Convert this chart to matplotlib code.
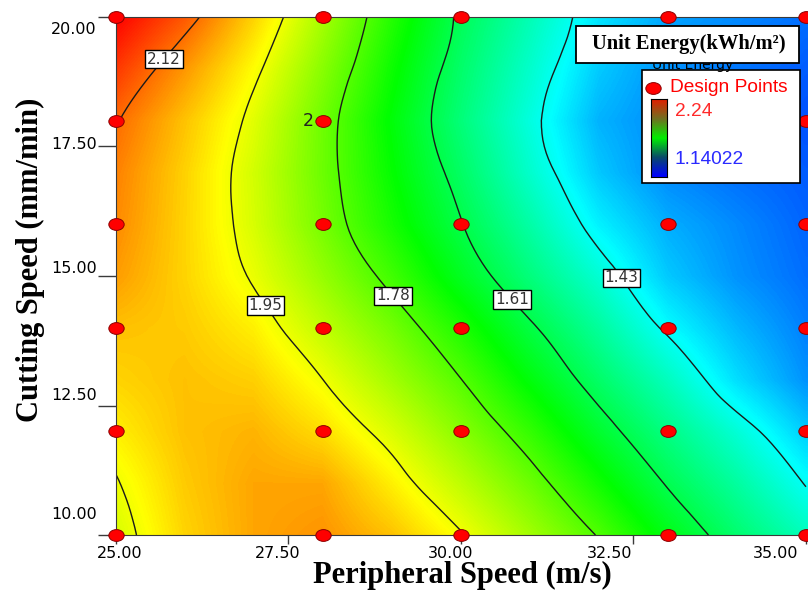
import numpy as np
import matplotlib
matplotlib.use('Agg')
import matplotlib.pyplot as plt
import matplotlib.tri as tri
from matplotlib.colors import LinearSegmentedColormap, Normalize
from matplotlib.markers import MarkerStyle
from matplotlib.transforms import Affine2D, ScaledTranslation
from matplotlib.patches import Rectangle

# 축 값 (격자)
speed = [25, 26, 27, 28, 29, 30, 31, 32, 33, 34, 35]
cut = [10, 11, 12, 13, 14, 15, 16, 17, 18, 19, 20]

# 그림에서 읽은 단위 에너지 (행: cut, 열: speed)
energy = [
    [1.92, 2.01, 2.06, 2.08, 2.03, 1.955, 1.866, 1.775, 1.668, 1.573, 1.49],
    [1.945, 2.02, 2.06, 2.06, 1.98, 1.895, 1.807, 1.707, 1.604, 1.52, 1.426],
    [1.98, 2.03, 2.045, 2.00, 1.924, 1.837, 1.745, 1.641, 1.549, 1.461, 1.363],
    [2.01, 2.03, 2.015, 1.95, 1.865, 1.781, 1.679, 1.58, 1.487, 1.382, 1.30],
    [2.03, 2.02, 1.98, 1.897, 1.815, 1.722, 1.62, 1.524, 1.418, 1.34, 1.28],
    [2.07, 2.01, 1.942, 1.851, 1.759, 1.656, 1.558, 1.464, 1.359, 1.30, 1.26],
    [2.09, 2.01, 1.921, 1.816, 1.714, 1.613, 1.513, 1.403, 1.33, 1.29, 1.25],
    [2.10, 2.013, 1.916, 1.805, 1.694, 1.584, 1.472, 1.358, 1.29, 1.26, 1.24],
    [2.125, 2.029, 1.932, 1.808, 1.682, 1.561, 1.451, 1.335, 1.29, 1.25, 1.23],
    [2.18, 2.076, 1.965, 1.836, 1.703, 1.578, 1.472, 1.36, 1.30, 1.27, 1.24],
    [2.24, 2.145, 2.012, 1.869, 1.729, 1.598, 1.497, 1.39, 1.32, 1.29, 1.26],
]

# 설계점
design_x = [25, 28, 30, 33, 35,
            25, 28, 33, 35,
            25, 28, 30, 33, 35,
            25, 28, 30, 33, 35,
            25, 28, 30, 33, 35,
            25, 28, 30, 33, 35]
design_y = [20] * 5 + [18] * 4 + [16] * 5 + [14] * 5 + [12] * 5 + [10] * 5

levels = [1.43, 1.61, 1.78, 1.95, 2.12]
label_pos = [(32.28, 14.92), (30.77, 14.58), (29.08, 14.69), (27.18, 14.44), (25.71, 19.17)]
e_min, e_max = 1.14022, 2.24

xticks = [25, 27.5, 30, 32.5, 35]
yticks = [10, 12.5, 15, 17.5, 20]
xtick_shift = [4, -11, -10, -24, -30]   # px
ytick_shift = [22, 12, 9, 3, -11]       # px

cmap = LinearSegmentedColormap.from_list('de', ['#0000ff', '#00ffff', '#00ff00', '#ffff00', '#ff0000'])
norm = Normalize(vmin=e_min, vmax=e_max)
Z = np.array(energy)

fig = plt.figure(figsize=(8.08, 5.92), dpi=100)
ax = fig.add_axes([116 / 808, 57 / 592, 692 / 808, 518 / 592])

ax.imshow(Z, origin='lower', extent=[24.5, 35.5, 9.5, 20.5], cmap=cmap, norm=norm,
          interpolation='bilinear', interpolation_stage='data', aspect='auto')

# 등고선은 삼각분할을 세분해서 부드럽게
Xg, Yg = np.meshgrid(speed, cut)
triang = tri.Triangulation(Xg.ravel(), Yg.ravel())
interp = tri.CubicTriInterpolator(triang, Z.ravel())
tri_ref, z_ref = tri.UniformTriRefiner(triang).refine_field(Z.ravel(), triinterpolator=interp, subdiv=3)
cs = ax.tricontour(tri_ref, z_ref, levels=levels, colors='#1a1a1a', linewidths=1.0)
labels = ax.clabel(cs, levels, inline=False, fmt='%.2f', fontsize=11, manual=label_pos)
for t in labels:
    t.set_rotation(0)
    t.set_color('#333333')
    t.set_bbox(dict(boxstyle='square,pad=0.12', fc='white', ec='black', lw=1))

ell = MarkerStyle('o', transform=Affine2D().scale(1.3, 1.0))
ax.plot(design_x, design_y, ls='none', marker=ell, ms=8.5, mfc='red', mec='#8b0000',
        mew=0.7, clip_on=False, zorder=5)
ax.annotate('2', (28, 18), xytext=(-7, 0), textcoords='offset points', ha='right',
            va='center', fontsize=12.5, color='#222222')

ax.set_xlim(25, 35.03)
ax.set_ylim(10, 20)
ax.set_xticks(xticks)
ax.set_xticklabels(['%.2f' % v for v in xticks])
ax.set_yticks(yticks)
ax.set_yticklabels(['%.2f' % v for v in yticks])
ax.tick_params(axis='y', length=13, width=1, color='#3a3a3a', pad=1, labelsize=11.5)
ax.tick_params(axis='x', length=6.5, width=1, color='#3a3a3a', pad=1.5, labelsize=11.5)
for lab, dx in zip(ax.get_xticklabels(), xtick_shift):
    lab.set_transform(lab.get_transform() + ScaledTranslation(dx / 100, 0, fig.dpi_scale_trans))
for lab, dy in zip(ax.get_yticklabels(), ytick_shift):
    lab.set_transform(lab.get_transform() + ScaledTranslation(0, dy / 100, fig.dpi_scale_trans))
for s in ['left', 'bottom', 'top']:
    ax.spines[s].set_color('#3a3a3a')
ax.spines['right'].set_visible(False)

ax.set_xlabel('Peripheral Speed (m/s)', fontfamily='Liberation Serif', fontweight='bold', fontsize=22)
ax.xaxis.set_label_coords(0.501, -0.05)
ax.set_ylabel('Cutting Speed (mm/min)', fontfamily='Liberation Serif', fontweight='bold', fontsize=22)
ax.yaxis.set_label_coords(-0.103, 0.531)

# 범례 (픽셀 좌표)
ov = fig.add_axes([0, 0, 1, 1], zorder=10)
ov.set_xlim(0, 808)
ov.set_ylim(592, 0)
ov.axis('off')
ov.add_patch(Rectangle((642, 70), 158, 113, fc='white', ec='black', lw=1.2, zorder=1))
ov.text(652, 65, 'Unit Energy', fontsize=10, va='center', color='black', zorder=2)
ov.add_patch(Rectangle((576, 26), 223, 37, fc='white', ec='black', lw=1.3, zorder=3))
ov.text(689, 44, 'Unit Energy(kWh/m²)', fontfamily='Liberation Serif', fontweight='bold',
        fontsize=14.8, ha='center', va='center', zorder=4)
ov.plot([653], [88], ls='none', marker=ell, ms=8.5, mfc='red', mec='#8b0000', mew=0.7, zorder=4)
ov.text(670, 88, 'Design Points', fontfamily='Liberation Sans', fontsize=13.8, color='red',
        va='center', zorder=4)
ov.text(675, 112, '2.24', fontfamily='Liberation Sans', fontsize=13.8, color='#ff2a2a',
        va='center', zorder=4)
ov.text(675, 160, '1.14022', fontfamily='Liberation Sans', fontsize=13.8, color='#2a2aff',
        va='center', zorder=4)

bar_cmap = LinearSegmentedColormap.from_list('bar', ['#0000ff', '#0a4a6a', '#00ee00', '#707020', '#e02000'])
cax = fig.add_axes([651 / 808, (592 - 177) / 592, 16 / 808, 78 / 592], zorder=11)
cax.imshow(np.linspace(0, 1, 100).reshape(-1, 1), origin='lower', cmap=bar_cmap, aspect='auto')
cax.set_xticks([])
cax.set_yticks([])
for s in cax.spines.values():
    s.set_color('black')

fig.savefig('out.png', dpi=100)
